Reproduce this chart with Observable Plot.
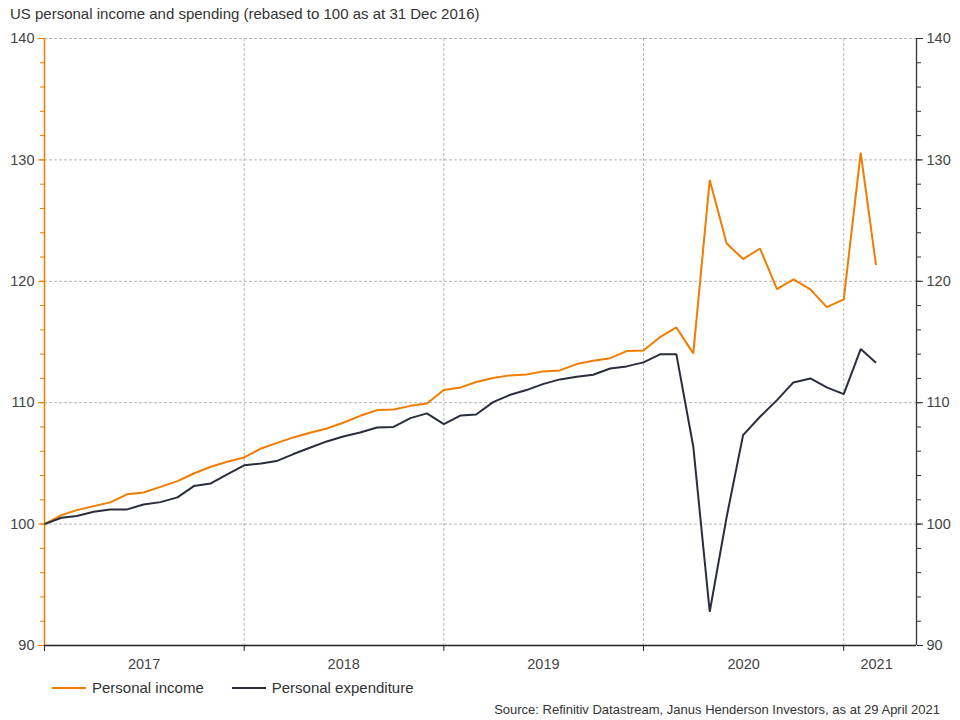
<!DOCTYPE html>
<html>
<head>
<meta charset="utf-8">
<script src="https://cdn.jsdelivr.net/npm/d3@7"></script>
<script src="https://cdn.jsdelivr.net/npm/@observablehq/plot@0.6"></script>
<style>
  html, body { margin: 0; padding: 0; background: #fff; }
  body { width: 960px; height: 720px; position: relative; font-family: "Liberation Sans", Arial, sans-serif; color: #333; }
  #title { position: absolute; left: 10px; top: 5px; font-size: 15px; color: #333; }
  #chart { position: absolute; left: 0; top: 28px; }
  #legend { position: absolute; left: 52px; top: 679px; font-size: 15px; color: #333; display: flex; align-items: center; }
  .item { display: flex; align-items: center; margin-right: 28px; }
  .sw { width: 34px; height: 2px; margin-right: 6px; }
  #source { position: absolute; right: 20px; top: 702px; font-size: 13px; color: #333; }
</style>
</head>
<body>
<div id="title">US personal income and spending (rebased to 100 as at 31 Dec 2016)</div>
<div id="chart"></div>
<div id="legend"></div>
<div id="source">Source: Refinitiv Datastream, Janus Henderson Investors, as at 29 April 2021</div>
<script>
const months = [
  "2016-12",
  "2017-01","2017-02","2017-03","2017-04","2017-05","2017-06","2017-07","2017-08","2017-09","2017-10","2017-11","2017-12",
  "2018-01","2018-02","2018-03","2018-04","2018-05","2018-06","2018-07","2018-08","2018-09","2018-10","2018-11","2018-12",
  "2019-01","2019-02","2019-03","2019-04","2019-05","2019-06","2019-07","2019-08","2019-09","2019-10","2019-11","2019-12",
  "2020-01","2020-02","2020-03","2020-04","2020-05","2020-06","2020-07","2020-08","2020-09","2020-10","2020-11","2020-12",
  "2021-01","2021-02"
];
const personalIncome = [
  100,
  100.74,101.15,101.48,101.79,102.45,102.6,103.07,103.54,104.17,104.72,105.13,105.49,
  106.23,106.67,107.14,107.52,107.88,108.35,108.92,109.39,109.44,109.74,109.94,111.04,
  111.26,111.7,112.03,112.25,112.33,112.58,112.66,113.18,113.45,113.67,114.25,114.3,
  115.43,116.2,114.06,128.34,123.12,121.83,122.7,119.36,120.15,119.33,117.87,118.51,
  130.59,121.33
];
const personalExpenditure = [
  100,
  100.52,100.66,101.01,101.21,101.21,101.62,101.81,102.2,103.13,103.35,104.09,104.84,
  105.0,105.19,105.77,106.29,106.81,107.22,107.55,107.96,108.0,108.73,109.12,108.24,
  108.95,109.03,110.05,110.63,111.04,111.53,111.92,112.14,112.3,112.82,112.99,113.32,
  114.0,114.0,106.37,92.78,100.6,107.33,108.84,110.21,111.67,112.0,111.26,110.71,
  114.42,113.29
];
const seriesNames = ["Personal income", "Personal expenditure"];
const seriesColors = ["#f07c00", "#2a2d3c"];
const yMajorTicks = [90, 100, 110, 120, 130, 140];
const yMinorTicks = d3.range(90, 141, 2);
const yearLabels = ["2017", "2018", "2019", "2020", "2021"];
const yearLabelDates = ["2017-07-01", "2018-07-01", "2019-07-01", "2020-07-01", "2021-03-01"];
const yearBoundaries = ["2016-12-31", "2017-12-31", "2018-12-31", "2019-12-31", "2020-12-31"];
const xDomain = ["2016-12-31", "2021-05-13"];

const parseMonth = d3.utcParse("%Y-%m");
const monthEnd = m => d3.utcDay.offset(d3.utcMonth.offset(parseMonth(m), 1), -1);
const pd = s => new Date(s + "T00:00:00Z");

const rows = [];
months.forEach((m, i) => {
  rows.push({date: monthEnd(m), value: personalIncome[i], series: seriesNames[0]});
  rows.push({date: monthEnd(m), value: personalExpenditure[i], series: seriesNames[1]});
});
const bounds = yearBoundaries.map(pd);
const labelRows = yearLabels.map((t, i) => ({date: pd(yearLabelDates[i]), label: t}));
const x0 = pd(xDomain[0]), x1 = pd(xDomain[1]);
const noText = () => "";

const chart = Plot.plot({
  width: 960,
  height: 647,
  marginLeft: 44,
  marginRight: 44,
  marginTop: 10,
  marginBottom: 30,
  style: {fontFamily: "Liberation Sans, Arial, sans-serif", fontSize: "14.5px", color: "#333", background: "#fff"},
  x: {type: "utc", domain: [x0, x1]},
  y: {domain: [90, 140]},
  color: {domain: seriesNames, range: seriesColors},
  marks: [
    Plot.gridY(yMajorTicks.filter(d => d > 90), {stroke: "#b5b5b5", strokeOpacity: 1, strokeDasharray: "3,2", strokeWidth: 1}),
    Plot.gridX(bounds.slice(1), {stroke: "#b5b5b5", strokeOpacity: 1, strokeDasharray: "3,2", strokeWidth: 1}),
    // left axis (orange)
    Plot.ruleX([x0], {stroke: seriesColors[0], strokeWidth: 1.5}),
    Plot.axisY(yMinorTicks, {anchor: "left", tickSize: 4, stroke: seriesColors[0], tickFormat: noText, label: null}),
    Plot.axisY(yMajorTicks, {anchor: "left", tickSize: 6, tickPadding: 4, stroke: seriesColors[0], fill: "#444", fontSize: 14.5, label: null}),
    // right axis
    Plot.ruleX([x1], {stroke: "#333", strokeWidth: 1.3}),
    Plot.axisY(yMinorTicks, {anchor: "right", tickSize: 4, stroke: "#333", tickFormat: noText, label: null}),
    Plot.axisY(yMajorTicks, {anchor: "right", tickSize: 6, tickPadding: 4, stroke: "#333", fill: "#444", fontSize: 14.5, label: null}),
    // bottom axis
    Plot.ruleY([90], {stroke: "#222", strokeWidth: 1.3}),
    Plot.axisX(bounds, {anchor: "bottom", tickSize: 6, stroke: "#222", tickFormat: noText, label: null}),
    Plot.text(labelRows, {x: "date", y: 90, text: "label", dy: 19, fill: "#444", fontSize: 14.5}),
    // series
    Plot.line(rows, {x: "date", y: "value", z: "series", stroke: "series", strokeWidth: 2, strokeLinejoin: "miter", strokeLinecap: "butt"})
  ]
});
document.getElementById("chart").appendChild(chart);

const legend = document.getElementById("legend");
seriesNames.forEach((n, i) => {
  const it = document.createElement("div");
  it.className = "item";
  it.innerHTML = `<div class="sw" style="background:${seriesColors[i]}"></div><span>${n}</span>`;
  legend.appendChild(it);
});
</script>
</body>
</html>
